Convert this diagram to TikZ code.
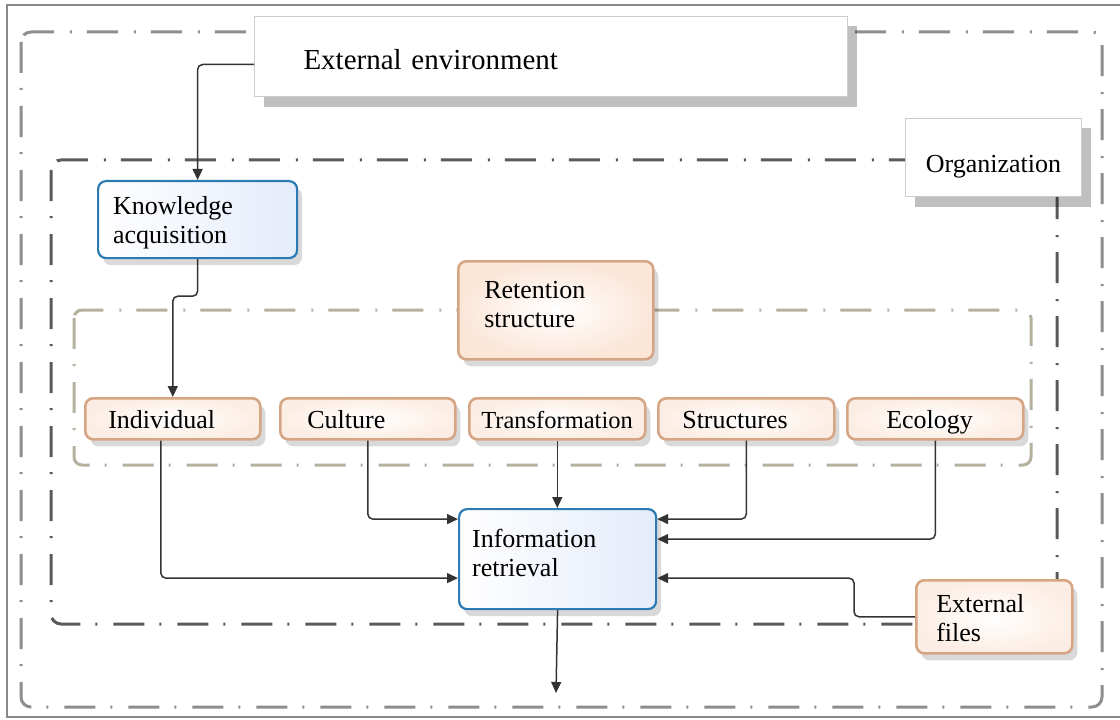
\documentclass[tikz,border=0pt]{standalone}
\usepackage{fontspec}
\setmainfont{Liberation Serif}
\usetikzlibrary{arrows.meta,shadows}
\definecolor{bluebd}{HTML}{2C7BB3}
\definecolor{bluefill}{HTML}{E4EBFA}
\definecolor{peachbd}{HTML}{D6A684}
\definecolor{peachfill}{HTML}{FBE6D8}
\definecolor{linec}{HTML}{333333}
\definecolor{outerdash}{HTML}{8E8E8E}
\definecolor{orgdash}{HTML}{5A5A5A}
\definecolor{retdash}{HTML}{B4B19E}
\definecolor{framec}{HTML}{8A8A8A}
\begin{document}
\begin{tikzpicture}[x=1bp,y=-1bp,
  ddot/.style={dash pattern=on 31bp off 15bp on 2bp off 16bp, line width=3bp},
  conn/.style={draw=linec, line width=1.5bp, rounded corners=5bp, -{Triangle[length=11bp,width=10bp]}},
  lbl/.style={font=\fontsize{26bp}{29.5bp}\selectfont, align=left, inner ysep=0bp, anchor=north west},
  shad/.style={drop shadow={shadow xshift=5bp, shadow yshift=-7bp, opacity=0.15, fill=black}},
  whitebox/.style={lbl, rectangle, draw=gray!40, line width=1bp, fill=white,
     drop shadow={shadow xshift=9bp, shadow yshift=-10bp, opacity=0.25, fill=black}},
  bluebox/.style={lbl, rectangle, rounded corners=8bp, draw=bluebd, line width=2.2bp,
     left color=white, right color=bluefill, shad},
  peachbox/.style={lbl, rectangle, rounded corners=8bp, draw=peachbd, line width=2.6bp,
     fill=white, inner color=white, outer color=peachfill!70, shad},
  smallbox/.style={peachbox, minimum height=41bp, text height=19bp, text depth=0bp}
]
\useasboundingbox (0,0) rectangle (1120,720);
% outer frame
\draw[framec, line width=2bp] (1121,5) -- (7,5) -- (7,717) -- (1121,717);
% dash-dot regions
\draw[outerdash, ddot, rounded corners=10bp] (21,32) rectangle (1102,707);
\draw[orgdash, ddot, rounded corners=10bp] (51,160) rectangle (1057,624);
\draw[retdash, ddot, rounded corners=8bp] (74,310) rectangle (1031,465);

% boxes
\node[whitebox, font=\fontsize{29bp}{32bp}\selectfont, inner xsep=49bp, text width=495bp,
      minimum height=80bp, text height=26bp, text depth=0bp] (ext) at (254,16) {External environment};
\node[whitebox, align=center, inner xsep=12bp, text width=152bp,
      minimum height=78bp, text height=30bp, text depth=0bp] (org) at (905,118) {Organization};
\node[bluebox, inner xsep=15bp, text width=169bp, minimum height=77bp,
      text height=18bp, text depth=29bp] (know) at (97,180) {Knowledge\\acquisition};
\node[peachbox, inner color=white, outer color=peachfill, inner xsep=26bp, text width=143bp, minimum height=98bp,
      text height=18bp, text depth=42bp] (ret) at (457,260) {Retention\\structure};

\node[smallbox, inner xsep=23bp, text width=129bp] (indiv) at (84,397) {Individual};
\node[smallbox, inner xsep=27bp, text width=121bp] (cult) at (279,397) {Culture};
\node[smallbox, inner xsep=12bp, text width=152bp, font=\fontsize{24.5bp}{29.5bp}\selectfont] (trans) at (468,397) {Transformation};
\node[smallbox, inner xsep=24bp, text width=128bp] (struct) at (657,397) {Structures};
\node[smallbox, inner xsep=39bp, text width=98bp] (eco) at (846,397) {Ecology};

\node[bluebox, inner xsep=13bp, text width=171bp, minimum height=100bp,
      text height=18bp, text depth=42bp] (info) at (458,508) {Information\\retrieval};
\node[peachbox, inner xsep=20bp, text width=116bp, minimum height=73bp,
      text height=18bp, text depth=27bp] (extf) at (915,579) {External\\files};

\coordinate (out) at (556,693);

% connectors
\draw[conn] ([yshift=-8bp]ext.west) -| (know.north);
\draw[conn] (know.south) -- ++(0,37) -| (indiv.north);
\draw[conn] ([xshift=-12bp]indiv.south) |- ([yshift=-19bp]info.west);
\draw[conn] (cult.south) |- ([yshift=40bp]info.west);
\draw[conn] (trans.south) -- (trans.south |- info.north);
\draw[conn] (struct.south) |- ([yshift=40bp]info.east);
\draw[conn] (eco.south) |- ([yshift=20bp]info.east);
\draw[conn] (extf.west) -- ++(-61,0) |- ([yshift=-19bp]info.east);
\draw[conn] (info.south) -- (out);
\end{tikzpicture}
\end{document}
